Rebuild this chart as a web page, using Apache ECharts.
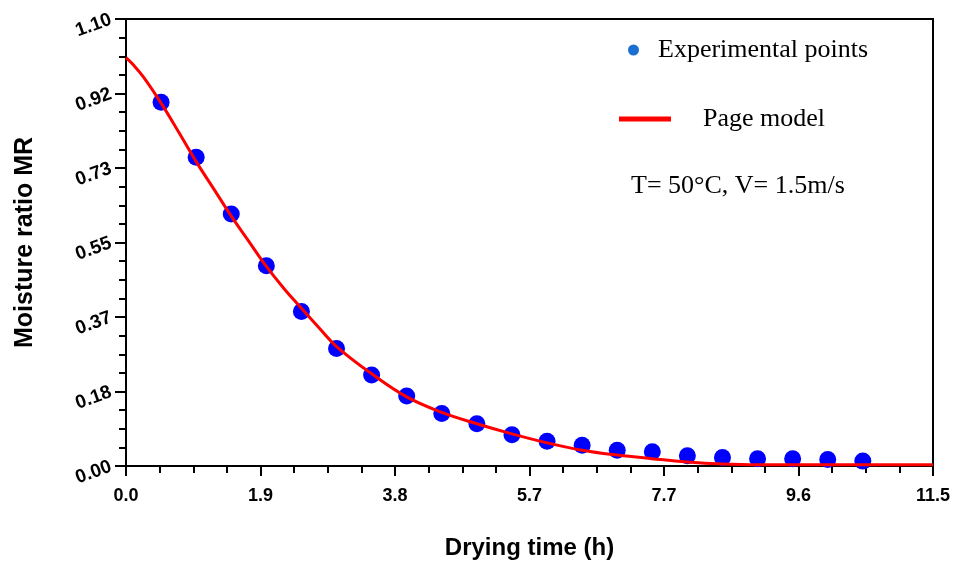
<!DOCTYPE html>
<html>
<head>
<meta charset="utf-8">
<script src="https://cdn.jsdelivr.net/npm/echarts@6/dist/echarts.min.js"></script>
<style>
  html, body { margin: 0; padding: 0; background: #fff; }
  #chart { width: 955px; height: 566px; }
</style>
</head>
<body>
<div id="chart"></div>
<script>
// Drying time (h) of the measured samples
const timeValues = [0.5, 1.0, 1.5, 2.0, 2.5, 3.0, 3.5, 4.0, 4.5, 5.0, 5.5,
                    6.0, 6.5, 7.0, 7.5, 8.0, 8.5, 9.0, 9.5, 10.0, 10.5];
// Measured moisture ratio MR
const moistureValues = [0.895, 0.760, 0.620, 0.493, 0.380, 0.289, 0.224, 0.172, 0.129, 0.104, 0.077,
                        0.061, 0.051, 0.039, 0.035, 0.025, 0.021, 0.018, 0.018, 0.016, 0.012];

// Page model fitted curve (time, MR)
const modelTime = [0, 0.1, 0.25, 0.5, 0.75, 1.0, 1.25, 1.5, 1.75, 2.0, 2.25, 2.5, 2.75, 3.0,
                   3.5, 4.0, 4.5, 5.0, 5.5, 6.0, 6.5, 7.0, 7.5, 8.0, 8.5, 9.0, 10.0, 11.5];
const modelMR = [1.005, 0.988, 0.957, 0.893, 0.822, 0.749, 0.682, 0.615, 0.553, 0.491, 0.437, 0.388, 0.340, 0.294,
                 0.227, 0.170, 0.132, 0.104, 0.079, 0.057, 0.039, 0.027, 0.018, 0.010, 0.005, 0.003, 0.003, 0.003];

// Axis tick labels
const xTickLabels = ['0.0', '1.9', '3.8', '5.7', '7.7', '9.6', '11.5'];
const yTickLabels = ['0.00', '0.18', '0.37', '0.55', '0.73', '0.92', '1.10'];

const xMax = 11.5, yMax = 1.1;
const xStep = xMax / 6, yStep = yMax / 6;

const pointData = timeValues.map((t, i) => [t, moistureValues[i]]);
const curveData = modelTime.map((t, i) => [t, modelMR[i]]);

const chart = echarts.init(document.getElementById('chart'), null, { renderer: 'canvas' });

const axisFont = { fontFamily: '"Liberation Sans", Arial, sans-serif', fontWeight: 'bold', color: '#000' };
const serifFont = '"Liberation Serif", "Times New Roman", serif';

chart.setOption({
  animation: false,
  backgroundColor: '#fff',
  grid: {
    left: 126, right: 22, top: 19, bottom: 100,
    show: true, borderColor: '#000', borderWidth: 2
  },
  xAxis: {
    type: 'value', min: 0, max: xMax, interval: xStep,
    name: 'Drying time (h)', nameLocation: 'middle', nameGap: 70,
    nameTextStyle: Object.assign({ fontSize: 24 }, axisFont),
    axisLine: { show: true, onZero: false, lineStyle: { color: '#000', width: 2 } },
    axisTick: { show: true, inside: false, length: 10, lineStyle: { color: '#000', width: 2 } },
    minorTick: { show: true, splitNumber: 4, length: 7, lineStyle: { color: '#000', width: 2 } },
    splitLine: { show: false },
    axisLabel: Object.assign({
      fontSize: 18, margin: 21,
      formatter: v => xTickLabels[Math.round(v / xStep)] ?? ''
    }, axisFont)
  },
  yAxis: {
    type: 'value', min: 0, max: yMax, interval: yStep,
    name: 'Moisture ratio MR', nameLocation: 'middle', nameGap: 88,
    nameTextStyle: Object.assign({ fontSize: 25 }, axisFont),
    axisLine: { show: true, onZero: false, lineStyle: { color: '#000', width: 2 } },
    axisTick: { show: true, inside: false, length: 11, lineStyle: { color: '#000', width: 2 } },
    minorTick: { show: true, splitNumber: 4, length: 7, lineStyle: { color: '#000', width: 2 } },
    splitLine: { show: false },
    axisLabel: Object.assign({
      fontSize: 19, margin: 15, rotate: 20,
      formatter: v => yTickLabels[Math.round(v / yStep)] ?? ''
    }, axisFont)
  },
  legend: [
    {
      left: 628, top: 37, padding: 0, orient: 'vertical',
      itemWidth: 11, itemHeight: 11,
      textStyle: { fontFamily: serifFont, fontSize: 26, color: '#000', padding: [0, 0, 0, 14] },
      data: [{ name: 'Experimental points', icon: 'circle', itemStyle: { color: '#1a6fd0' } }]
    },
    {
      left: 619, top: 106, padding: 0, orient: 'vertical',
      itemWidth: 52, itemHeight: 5,
      textStyle: { fontFamily: serifFont, fontSize: 26, color: '#000', padding: [0, 0, 0, 27] },
      data: [{ name: 'Page model', icon: 'rect', itemStyle: { color: '#ff0000' } }]
    }
  ],
  title: {
    text: 'T= 50°C, V= 1.5m/s',
    left: 626, top: 168,
    textStyle: { fontFamily: serifFont, fontSize: 26, fontWeight: 'normal', color: '#000' }
  },
  series: [
    {
      name: 'Experimental points',
      type: 'scatter',
      data: pointData,
      symbol: 'circle', symbolSize: 17,
      itemStyle: { color: '#0000ff', opacity: 1 },
      z: 2
    },
    {
      name: 'Page model',
      type: 'line',
      data: curveData,
      smooth: 0.4,
      showSymbol: false,
      lineStyle: { color: '#ff0000', width: 3 },
      itemStyle: { color: '#ff0000' },
      z: 3
    }
  ]
});
</script>
</body>
</html>
